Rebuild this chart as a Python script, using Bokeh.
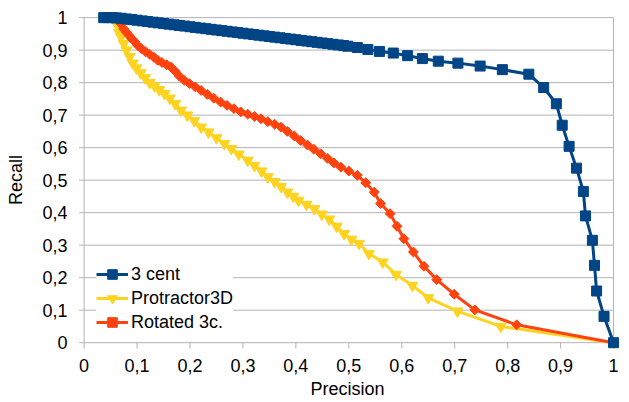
import math
from bokeh.plotting import figure
from bokeh.models import Range1d, FixedTicker, Legend, LegendItem
from bokeh.embed import file_html
from bokeh.resources import INLINE

# ---------------- data ----------------
x_ticks = [0, 0.1, 0.2, 0.3, 0.4, 0.5, 0.6, 0.7, 0.8, 0.9, 1]
x_tick_labels = ["0", "0,1", "0,2", "0,3", "0,4", "0,5", "0,6", "0,7", "0,8", "0,9", "1"]
y_ticks = [0, 0.1, 0.2, 0.3, 0.4, 0.5, 0.6, 0.7, 0.8, 0.9, 1]
y_tick_labels = ["0", "0,1", "0,2", "0,3", "0,4", "0,5", "0,6", "0,7", "0,8", "0,9", "1"]

series_names = ["3 cent", "Protractor3D", "Rotated 3c."]

cent_precision = [0.037, 0.045, 0.053, 0.061, 0.07,
                  0.08, 0.09, 0.10, 0.11, 0.12, 0.13, 0.14, 0.15, 0.16, 0.17,
                  0.18, 0.19, 0.20, 0.21, 0.22, 0.23, 0.24, 0.25, 0.26, 0.27,
                  0.28, 0.29, 0.30, 0.31, 0.32, 0.33, 0.34, 0.35, 0.36, 0.37,
                  0.38, 0.39, 0.40, 0.41, 0.42, 0.43, 0.44, 0.45, 0.46, 0.47,
                  0.48, 0.49,
                  0.498, 0.516, 0.536, 0.558, 0.584, 0.611, 0.639, 0.669, 0.706,
                  0.748, 0.790, 0.840,
                  0.868, 0.892, 0.903, 0.916, 0.930, 0.943, 0.947, 0.960, 0.964,
                  0.968, 0.982, 1.0]
cent_recall = [1.0, 1.0, 1.0, 0.999, 0.998,
               0.996, 0.994, 0.992, 0.990, 0.988, 0.986, 0.984, 0.982, 0.980, 0.978,
               0.976, 0.974, 0.972, 0.970, 0.968, 0.966, 0.964, 0.962, 0.960, 0.958,
               0.956, 0.954, 0.952, 0.950, 0.948, 0.946, 0.944, 0.942, 0.940, 0.938,
               0.936, 0.934, 0.932, 0.930, 0.928, 0.926, 0.924, 0.922, 0.920, 0.918,
               0.916, 0.914,
               0.912, 0.908, 0.902, 0.896, 0.891, 0.883, 0.874, 0.866, 0.860,
               0.851, 0.840, 0.826,
               0.785, 0.735, 0.669, 0.604, 0.537, 0.465, 0.390, 0.315, 0.238,
               0.159, 0.081, 0.0]

prot_precision = [0.058, 0.060, 0.063, 0.066, 0.070, 0.075, 0.080, 0.086, 0.092, 0.099,
                  0.107, 0.115, 0.124, 0.133, 0.142, 0.152, 0.162, 0.172, 0.183, 0.195,
                  0.208, 0.221, 0.235, 0.250, 0.265, 0.278, 0.292, 0.309, 0.322, 0.335,
                  0.347, 0.360, 0.372, 0.384, 0.395, 0.405, 0.420, 0.435, 0.449, 0.463,
                  0.477, 0.491, 0.505, 0.519, 0.538, 0.564, 0.589, 0.620, 0.650, 0.705,
                  0.787, 1.0]
prot_recall = [1.0, 0.99, 0.975, 0.955, 0.94, 0.92, 0.90, 0.88, 0.86, 0.845,
               0.83, 0.815, 0.80, 0.79, 0.778, 0.766, 0.752, 0.735, 0.715, 0.70,
               0.683, 0.663, 0.648, 0.630, 0.612, 0.597, 0.580, 0.561, 0.545, 0.528,
               0.51, 0.495, 0.48, 0.463, 0.45, 0.438, 0.425, 0.412, 0.395, 0.380,
               0.358, 0.335, 0.318, 0.305, 0.274, 0.248, 0.210, 0.176, 0.138, 0.097,
               0.050, 0.0]

rot_precision = [0.065, 0.070, 0.075, 0.080, 0.085, 0.090, 0.096, 0.101, 0.108, 0.116,
                 0.124, 0.132, 0.139, 0.147, 0.156, 0.164, 0.172, 0.180, 0.189, 0.199,
                 0.210, 0.221, 0.233, 0.245, 0.258, 0.270, 0.283, 0.296, 0.309, 0.322,
                 0.334, 0.347, 0.360, 0.372, 0.384, 0.397, 0.409, 0.422, 0.434, 0.447,
                 0.460, 0.472, 0.485, 0.500, 0.516, 0.532, 0.548, 0.560, 0.578, 0.591,
                 0.604, 0.622, 0.642, 0.666, 0.699, 0.738, 0.817, 1.0]
rot_recall = [1.0, 0.98, 0.965, 0.955, 0.945, 0.935, 0.925, 0.915, 0.905, 0.895,
              0.887, 0.878, 0.869, 0.862, 0.855, 0.848, 0.835, 0.82, 0.807, 0.797,
              0.787, 0.776, 0.764, 0.752, 0.74, 0.73, 0.72, 0.71, 0.703, 0.696,
              0.689, 0.680, 0.672, 0.663, 0.65, 0.636, 0.622, 0.608, 0.595, 0.581,
              0.567, 0.553, 0.540, 0.528, 0.515, 0.492, 0.463, 0.428, 0.397, 0.358,
              0.320, 0.279, 0.235, 0.194, 0.149, 0.101, 0.055, 0.0]

assert len(cent_precision) == len(cent_recall)
assert len(prot_precision) == len(prot_recall)
assert len(rot_precision) == len(rot_recall)

# ---------------- style ----------------
BLUE = "#004586"
YELLOW = "#ffd320"
RED = "#ff420e"
GRID = "#b3b3b3"
FONT = "Liberation Sans"
FS = "18px"

p = figure(width=629, height=402, output_backend="svg", toolbar_location=None,
           x_range=Range1d(-0.02, 1.015), y_range=Range1d(-0.024, 1.025),
           min_border_left=73, min_border_right=8, min_border_top=9,
           min_border_bottom=52,
           x_axis_label="Precision", y_axis_label="Recall")
p.outline_line_color = None
p.grid.visible = False
p.background_fill_color = "white"
p.border_fill_color = "white"

for ax, ticks, labels in ((p.xaxis[0], x_ticks, x_tick_labels),
                          (p.yaxis[0], y_ticks, y_tick_labels)):
    ax.ticker = FixedTicker(ticks=ticks)
    ax.major_label_overrides = {t: l for t, l in zip(ticks, labels)}
    ax.axis_line_color = None
    ax.major_tick_line_color = None
    ax.minor_tick_line_color = None
    ax.major_label_text_font = FONT
    ax.major_label_text_font_size = FS
    ax.major_label_text_color = "black"
    ax.axis_label_text_font = FONT
    ax.axis_label_text_font_size = FS
    ax.axis_label_text_font_style = "normal"
    ax.axis_label_text_color = "black"

p.xaxis.major_label_standoff = 2
p.xaxis.axis_label_standoff = 4
p.yaxis.major_label_standoff = 0
p.yaxis.axis_label_standoff = 13

# grid lines (with short stubs left of the axis) and frame lines
n = len(y_ticks)
p.segment(x0=[-0.0094] * n, y0=y_ticks, x1=[1] * n, y1=y_ticks,
          line_color=GRID, line_width=1, level="underlay")
p.segment(x0=[0, 1], y0=[0, 0], x1=[0, 1], y1=[1, 1],
          line_color=GRID, line_width=1, level="underlay")
m = len(x_ticks)
p.segment(x0=x_ticks, y0=[0] * m, x1=x_ticks, y1=[-0.018] * m,
          line_color=GRID, line_width=1, level="underlay")

# series
l2 = p.line(prot_precision, prot_recall, line_color=YELLOW, line_width=3)
s2 = p.scatter(prot_precision, prot_recall, marker="inverted_triangle", size=11,
               fill_color=YELLOW, line_color=YELLOW)
l3 = p.line(rot_precision, rot_recall, line_color=RED, line_width=3)
s3 = p.scatter(rot_precision, rot_recall, marker="square", angle=math.pi / 4, size=7,
               fill_color=RED, line_color=RED)
l1 = p.line(cent_precision, cent_recall, line_color=BLUE, line_width=3)
s1 = p.scatter(cent_precision, cent_recall, marker="square", size=10,
               fill_color=BLUE, line_color=BLUE)

legend = Legend(items=[
    LegendItem(label=series_names[0], renderers=[l1, s1]),
    LegendItem(label=series_names[1], renderers=[l2, s2]),
    LegendItem(label=series_names[2], renderers=[l3, s3]),
], location=(23, 16))
legend.label_text_font = FONT
legend.label_text_font_size = FS
legend.label_text_color = "black"
legend.border_line_color = None
legend.background_fill_color = "white"
legend.background_fill_alpha = 1.0
legend.padding = 5
legend.spacing = 0
legend.margin = 0
legend.glyph_width = 32
legend.glyph_height = 24
legend.label_height = 24
legend.label_standoff = 3
p.add_layout(legend, "center")

open("out.html", "w").write(file_html(p, INLINE))
